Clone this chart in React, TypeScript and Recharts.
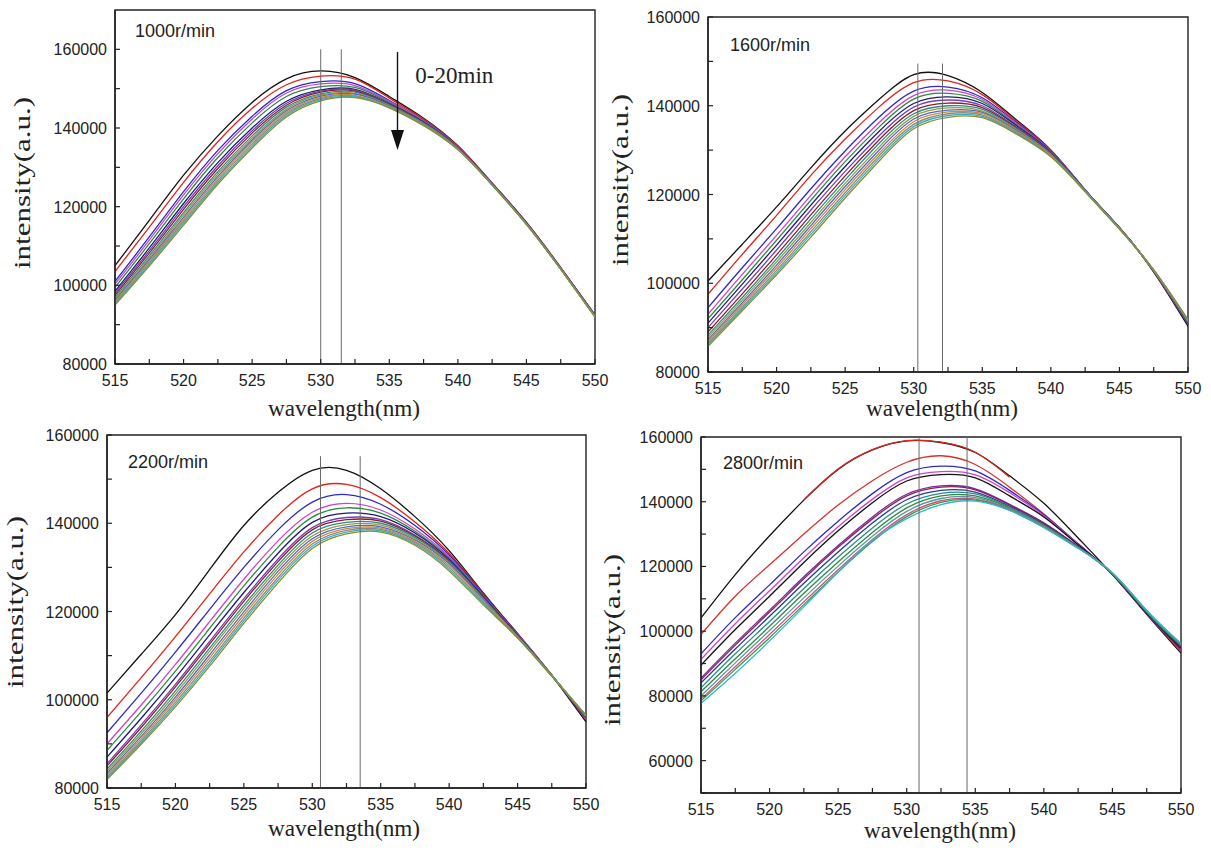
import React from "react";
import { LineChart, Line, XAxis, YAxis, ReferenceLine, ReferenceDot, ReferenceArea } from "recharts";

// wavelength grid (nm) shared by every spectrum
const WAVELENGTHS = [515, 517.5, 520, 522.5, 525, 527.5, 530, 532.5, 535, 537.5, 540, 542.5, 545, 547.5, 550];
const X_TICKS = [515, 517.5, 520, 522.5, 525, 527.5, 530, 532.5, 535, 537.5, 540, 542.5, 545, 547.5, 550];

const TICKS_80_170 = [80000, 90000, 100000, 110000, 120000, 130000, 140000, 150000, 160000];
const TICKS_80_160 = [80000, 90000, 100000, 110000, 120000, 130000, 140000, 150000, 160000];
const TICKS_50_160 = [50000, 60000, 70000, 80000, 90000, 100000, 110000, 120000, 130000, 140000, 150000, 160000];

const ORIGIN_COLORS = [
  "#111111", "#e2231a", "#2b2bc8", "#cc44cc", "#2e8b3e", "#1c1c78", "#7a3fb0",
  "#8a1f2f", "#2a8c8c", "#9a9a3a", "#4a6ad0", "#d08a3a", "#8a8a8a", "#3ab0b8", "#8c8c30",
];
const COLORS_2800 = [
  "#111111", "#e2231a", "#d8302a", "#2b2bc8", "#cc44cc", "#111111", "#7a2a9a",
  "#8a1f5f", "#2a3a8c", "#2a8c8c", "#2e8b3e", "#5a9a9a", "#d0508a", "#3a9a4a", "#30b8c8",
];

// 1000 r/min
const CURVES_1000 = [
  [105000, 116500, 128000, 138000, 146500, 152500, 154500, 152800, 148000, 142500, 135500, 126000, 116000, 104500, 92500],
  [103500, 114800, 126200, 136500, 145000, 151000, 153200, 152400, 147600, 142300, 135400, 126000, 116000, 104500, 92400],
  [101000, 112300, 123800, 134300, 143000, 149500, 151800, 151300, 147000, 142000, 135200, 125900, 115900, 104400, 92400],
  [100300, 111500, 123000, 133500, 142300, 148900, 151200, 150800, 146800, 141900, 135100, 125900, 115900, 104400, 92400],
  [99500, 110600, 122000, 132500, 141300, 148000, 150500, 150300, 146500, 141700, 135000, 125800, 115800, 104300, 92300],
  [98500, 109500, 120800, 131200, 140000, 146800, 149700, 149800, 146200, 141500, 134900, 125800, 115800, 104300, 92300],
  [98000, 108800, 120000, 130400, 139300, 146300, 149400, 149600, 146100, 141400, 134900, 125700, 115700, 104300, 92200],
  [97500, 108200, 119300, 129700, 138700, 145800, 149100, 149400, 146000, 141300, 134800, 125700, 115700, 104200, 92200],
  [97000, 107500, 118500, 128900, 138000, 145300, 148700, 149100, 145800, 141200, 134800, 125700, 115700, 104200, 92200],
  [96600, 107000, 117900, 128300, 137400, 144800, 148400, 148800, 145700, 141100, 134700, 125600, 115600, 104200, 92100],
  [96200, 106500, 117300, 127700, 136900, 144400, 148100, 148600, 145600, 141000, 134700, 125600, 115600, 104200, 92100],
  [95900, 106100, 116800, 127200, 136400, 144000, 147800, 148300, 145400, 140900, 134600, 125600, 115600, 104100, 92100],
  [95600, 105700, 116300, 126700, 135900, 143600, 147500, 148100, 145300, 140800, 134600, 125500, 115500, 104100, 92000],
  [95300, 105300, 115800, 126200, 135400, 143200, 147200, 147900, 145200, 140700, 134500, 125500, 115500, 104100, 92000],
  [95000, 104900, 115300, 125700, 134900, 142800, 146900, 147700, 145100, 140600, 134500, 125500, 115500, 104100, 92000],
];

// 1600 r/min
const CURVES_1600 = [
  [100500, 108800, 117200, 126000, 134300, 141500, 147000, 146800, 143000, 136800, 130000, 121000, 112500, 102500, 90300],
  [97500, 106500, 115300, 124300, 132500, 139800, 145200, 145600, 142500, 136500, 130000, 121000, 112500, 102700, 90800],
  [94500, 103500, 112300, 121300, 129800, 137500, 143300, 144200, 141800, 136200, 129900, 121000, 112500, 102700, 90800],
  [93000, 102000, 110800, 119800, 128500, 136300, 142300, 143500, 141400, 136000, 129800, 121000, 112500, 102700, 91000],
  [92000, 100800, 109700, 118700, 127400, 135300, 141500, 142800, 141000, 135700, 129700, 121000, 112500, 102800, 91000],
  [91000, 99800, 108600, 117600, 126300, 134300, 140500, 142000, 140500, 135500, 129600, 121000, 112500, 102800, 91200],
  [90000, 98700, 107500, 116500, 125200, 133300, 139700, 141300, 140000, 135200, 129500, 121000, 112500, 102800, 91200],
  [89000, 97600, 106400, 115400, 124200, 132400, 138900, 140600, 139600, 135000, 129300, 120900, 112400, 102800, 91300],
  [88300, 96800, 105500, 114500, 123300, 131600, 138200, 140000, 139200, 134800, 129100, 120900, 112400, 102900, 91400],
  [87800, 96200, 104800, 113700, 122500, 130800, 137600, 139500, 138800, 134600, 129000, 120800, 112400, 102900, 91500],
  [87300, 95600, 104100, 113000, 121800, 130100, 137000, 139000, 138500, 134400, 128900, 120800, 112300, 102900, 91500],
  [86900, 95100, 103500, 112300, 121100, 129400, 136400, 138600, 138200, 134200, 128800, 120700, 112300, 102900, 91600],
  [86500, 94600, 102900, 111600, 120400, 128800, 135800, 138200, 137900, 134000, 128700, 120700, 112300, 102900, 91600],
  [86200, 94200, 102400, 111000, 119800, 128200, 135300, 137800, 137600, 133800, 128600, 120700, 112200, 103000, 91700],
  [85800, 93800, 101900, 110400, 119200, 127600, 134800, 137400, 137300, 133600, 128500, 120600, 112200, 103000, 91800],
];

// 2200 r/min
const CURVES_2200 = [
  [101500, 110300, 119300, 129500, 139500, 147000, 152000, 152000, 147800, 141500, 133800, 124200, 115000, 105500, 95000],
  [96000, 105000, 114300, 124000, 133500, 141800, 147800, 148800, 145800, 140300, 133200, 124000, 115000, 105600, 95500],
  [92500, 101500, 110800, 120500, 130000, 138500, 144800, 146500, 144300, 139500, 132800, 123800, 114900, 105600, 95700],
  [90000, 98800, 108000, 117700, 127300, 136000, 142500, 144500, 143000, 138700, 132400, 123600, 114800, 105600, 95800],
  [88500, 97300, 106500, 116200, 125800, 134600, 141400, 143500, 142300, 138200, 132100, 123500, 114700, 105600, 95900],
  [87000, 95800, 105000, 114700, 124300, 133200, 140200, 142300, 141500, 137800, 131800, 123300, 114600, 105500, 96000],
  [85500, 94300, 103500, 113200, 122900, 131900, 139000, 141300, 140800, 137300, 131500, 123100, 114500, 105500, 96000],
  [85000, 93700, 102900, 112600, 122300, 131300, 138500, 140800, 140500, 137100, 131400, 123000, 114400, 105500, 96100],
  [84300, 92900, 102000, 111700, 121400, 130500, 137800, 140200, 140000, 136800, 131200, 122900, 114300, 105500, 96200],
  [83800, 92300, 101300, 111000, 120700, 129800, 137100, 139700, 139600, 136500, 131000, 122800, 114300, 105500, 96300],
  [83300, 91700, 100600, 110200, 119900, 129100, 136500, 139200, 139200, 136200, 130800, 122700, 114200, 105400, 96300],
  [82900, 91200, 100000, 109500, 119200, 128400, 135900, 138800, 138900, 135900, 130400, 122400, 114200, 105400, 96400],
  [82500, 90700, 99400, 108800, 118500, 127700, 135300, 138400, 138600, 135600, 130000, 122100, 114100, 105400, 96400],
  [82200, 90300, 98900, 108200, 117900, 127100, 134800, 138000, 138300, 135300, 129600, 121800, 114100, 105400, 96500],
  [81900, 89900, 98400, 107600, 117300, 126500, 134300, 137600, 138000, 135000, 129200, 121500, 114000, 105300, 96500],
];

// 2800 r/min (the 1-min red spectrum lies on the 0-min black one outside 522-537 nm)
const CURVES_2800 = [
  [104100, 117500, 129500, 140500, 150000, 156000, 158800, 158300, 155200, 148000, 139500, 128800, 117500, 105200, 93200],
  [null, null, null, 140600, 150100, 156100, 158900, 158400, 155300, 147600, null, null, null, null, null],
  [99000, 110800, 120500, 130000, 139000, 146500, 152200, 154200, 151500, 144500, 136200, 127000, 117600, 105500, 93800],
  [93000, 104200, 114300, 124500, 134000, 142500, 149000, 151000, 149500, 143500, 136000, 127000, 117600, 105600, 94200],
  [91300, 102300, 112500, 122700, 132300, 140800, 147400, 149300, 148300, 142800, 135700, 126900, 117600, 105700, 94500],
  [89500, 100500, 110800, 121200, 131000, 139700, 146400, 148400, 147400, 141800, 135300, 126700, 117600, 105700, 94700],
  [85500, 96300, 106500, 116800, 126500, 135300, 142300, 144900, 144000, 139200, 133500, 126200, 117700, 105800, 95200],
  [85000, 95700, 105900, 116200, 125900, 134700, 141800, 144500, 143700, 139000, 133300, 126100, 117700, 105800, 95300],
  [84000, 94500, 104600, 114800, 124500, 133400, 140600, 143500, 143000, 138600, 133000, 126000, 117800, 105900, 95400],
  [82500, 93000, 103000, 113200, 122900, 131900, 139300, 142600, 142400, 138300, 132800, 125900, 117800, 106000, 95600],
  [81300, 91500, 101500, 111700, 121400, 130500, 138100, 141800, 141800, 138000, 132600, 125800, 117900, 106100, 95700],
  [80000, 90200, 100200, 110300, 120100, 129300, 137000, 141000, 141300, 137800, 132400, 125800, 117900, 106200, 95800],
  [79000, 89000, 99000, 109100, 119000, 128300, 136000, 140300, 140800, 137600, 132300, 125700, 118000, 106300, 95900],
  [78500, 88200, 98000, 108200, 118300, 127700, 135400, 139800, 140500, 137400, 132100, 125700, 118000, 106300, 96000],
  [77700, 87000, 97000, 107500, 118300, 128000, 134800, 139100, 140200, 137300, 132000, 125600, 118000, 106400, 96200],
];

const PANELS = [
  { title: "1000r/min", curves: CURVES_1000, colors: ORIGIN_COLORS, domain: [80000, 170000], yTicks: TICKS_80_170, lines: [530, 531.5], lineTop: 160000, arrow: true, px: 115, py: 10, pw: 480, ph: 354 },
  { title: "1600r/min", curves: CURVES_1600, colors: ORIGIN_COLORS, domain: [80000, 160000], yTicks: TICKS_80_160, lines: [530.3, 532.1], lineTop: 149500, arrow: false, px: 708, py: 17, pw: 480, ph: 355 },
  { title: "2200r/min", curves: CURVES_2200, colors: ORIGIN_COLORS, domain: [80000, 160000], yTicks: TICKS_80_160, lines: [530.6, 533.5], lineTop: 155200, arrow: false, px: 107, py: 435, pw: 479, ph: 353 },
  { title: "2800r/min", curves: CURVES_2800, colors: COLORS_2800, domain: [50000, 160000], yTicks: TICKS_50_160, lines: [530.9, 534.4], lineTop: 160000, arrow: false, px: 701, py: 437, pw: 480, ph: 356 },
];

const SANS = "'Liberation Sans', Arial, sans-serif";
const SERIF = "'Liberation Serif', 'Times New Roman', serif";
const INK = "#222";

function XTick(props: any) {
  const { x, y, payload } = props;
  const major = payload.value % 5 === 0;
  return (
    <g>
      <line x1={x} y1={y} x2={x} y2={y - 5} stroke={INK} strokeWidth={1.2} />
      {major && (
        <text x={x} y={y + 22} textAnchor="middle" fontSize={16} fontFamily={SANS} fill={INK}>
          {payload.value}
        </text>
      )}
    </g>
  );
}

function YTick(props: any) {
  const { x, y, payload } = props;
  const labelled = payload.value % 20000 === 0;
  return (
    <g>
      <line x1={x} y1={y} x2={x + 5} y2={y} stroke={INK} strokeWidth={1.2} />
      {labelled && (
        <text x={x - 8} y={y + 6} textAnchor="end" fontSize={16} fontFamily={SANS} fill={INK}>
          {payload.value}
        </text>
      )}
    </g>
  );
}

function Panel({ p }: { p: (typeof PANELS)[number] }) {
  const rows = WAVELENGTHS.map((x, i) => {
    const row: Record<string, number | null> = { x };
    p.curves.forEach((c, k) => (row["c" + k] = c[i]));
    return row;
  });
  return (
    <div style={{ position: "absolute", left: p.px - 100, top: p.py - 20 }}>
      <LineChart width={p.pw + 115} height={p.ph + 75} data={rows} margin={{ top: 20, right: 15, bottom: 0, left: 0 }}>
        <XAxis dataKey="x" type="number" domain={[515, 550]} ticks={X_TICKS} interval={0} tickSize={0} tickMargin={0} height={55} tick={<XTick />} axisLine={{ stroke: INK, strokeWidth: 1.4 }} tickLine={false} allowDataOverflow />
        <YAxis type="number" domain={p.domain} ticks={p.yTicks} interval={0} tickSize={0} tickMargin={0} width={100} tick={<YTick />} axisLine={{ stroke: INK, strokeWidth: 1.4 }} tickLine={false} allowDataOverflow />
        <ReferenceArea x1={515} x2={550} y1={p.domain[0]} y2={p.domain[1]} fill="none" stroke={INK} strokeWidth={1.4} fillOpacity={0} />
        {p.curves.map((_, k) => (
          <Line key={k} dataKey={"c" + k} type="natural" stroke={p.colors[k]} strokeWidth={1.3} dot={false} isAnimationActive={false} />
        ))}
        {p.lines.map((lx) => (
          <ReferenceLine key={lx} segment={[{ x: lx, y: p.lineTop }, { x: lx, y: p.domain[0] }]} stroke="#6a6a6a" strokeWidth={1} />
        ))}
        {p.arrow && (
          <ReferenceLine segment={[{ x: 535.6, y: 159300 }, { x: 535.6, y: 138000 }]} stroke="#111" strokeWidth={1.4} />
        )}
        {p.arrow && (
          <ReferenceDot x={535.6} y={134400} r={0} shape={(s: any) => (
            <path d={`M${s.cx - 6.5},${s.cy - 20} L${s.cx + 6.5},${s.cy - 20} L${s.cx},${s.cy} Z`} fill="#111" />
          )} />
        )}
        {p.arrow && (
          <ReferenceDot x={536.9} y={153500} r={0} shape={(s: any) => (
            <text x={s.cx} y={s.cy + 8} fontSize={23} fontFamily={SERIF} fill={INK}>0-20min</text>
          )} />
        )}
      </LineChart>
    </div>
  );
}

const TITLE_POS = [
  { x: 135, y: 37 },
  { x: 730, y: 51 },
  { x: 128, y: 468 },
  { x: 723, y: 469 },
];
const XLABEL_POS = [
  { x: 344, y: 416 },
  { x: 942, y: 416 },
  { x: 344, y: 836 },
  { x: 940, y: 838 },
];
const YLABEL_POS = [
  { x: 30, y: 183 },
  { x: 628, y: 180 },
  { x: 23, y: 602 },
  { x: 620, y: 640 },
];

export default function App() {
  return (
    <div style={{ position: "absolute", left: 0, top: 0, width: 1211, height: 854, background: "#fff", overflow: "hidden" }}>
      {PANELS.map((p) => (
        <Panel key={p.title} p={p} />
      ))}
      <svg width={1211} height={854} style={{ position: "absolute", left: 0, top: 0, pointerEvents: "none" }}>
        {PANELS.map((p, i) => (
          <g key={p.title}>
            <text x={TITLE_POS[i].x} y={TITLE_POS[i].y} fontSize={18} fontFamily={SANS} fill={INK}>{p.title}</text>
            <text x={XLABEL_POS[i].x} y={XLABEL_POS[i].y} textAnchor="middle" fontSize={23} fontFamily={SERIF} fill={INK} textLength={152} lengthAdjust="spacingAndGlyphs">wavelength(nm)</text>
            <text transform={`translate(${YLABEL_POS[i].x},${YLABEL_POS[i].y}) rotate(-90)`} textAnchor="middle" fontSize={23} fontFamily={SERIF} fill={INK} textLength={172} lengthAdjust="spacingAndGlyphs">intensity(a.u.)</text>
          </g>
        ))}
      </svg>
    </div>
  );
}
